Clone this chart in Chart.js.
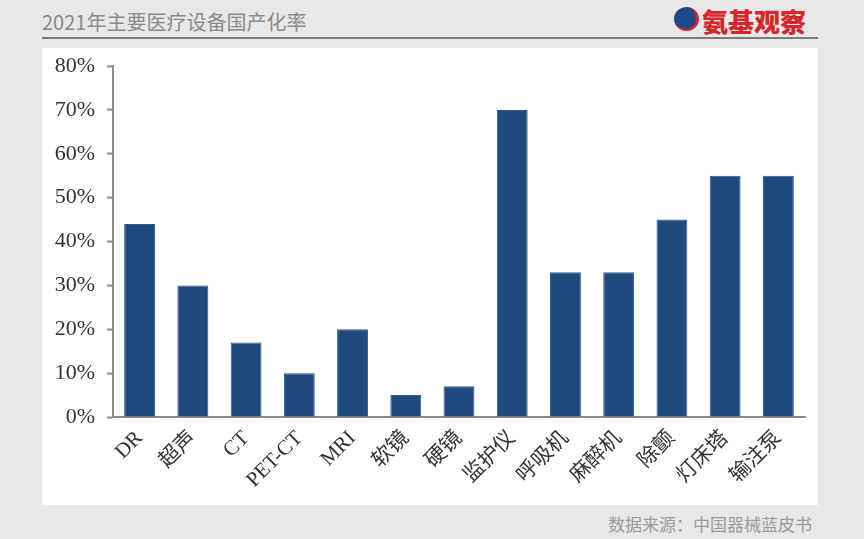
<!DOCTYPE html>
<html>
<head>
<meta charset="utf-8">
<script src="https://cdn.jsdelivr.net/npm/chart.js@4"></script>
<style>
  body { margin: 0; width: 864px; height: 539px; background: #e8e8e8; position: relative; overflow: hidden; font-family: "Noto Sans CJK SC", sans-serif; }
  #title { position: absolute; left: 42px; top: 7px; font-size: 20px; color: #8a8a8a; }
  #rule { position: absolute; left: 42px; top: 37px; width: 776px; height: 2px; background: #7a7a7a; }
  #panel { position: absolute; left: 42px; top: 48px; width: 776px; height: 457px; background: #fff; }
  #logo { position: absolute; left: 672px; top: 2px; height: 30px; }
  #logo .icon { position: absolute; left: 2px; top: 5px; width: 22px; height: 22px; border-radius: 50%; background: #1f4a8a; border-right: 3px solid #d7262b; border-bottom: 2px solid #d7262b; }
  #logo .txt { position: absolute; left: 30px; top: 0px; font-size: 26px; font-weight: 900; color: #d7262b; white-space: nowrap; }
  #source { position: absolute; left: 608px; top: 511px; font-size: 17px; color: #9a9a9a; }
  #chart { position: absolute; left: 0; top: 0; }
</style>
</head>
<body>
<div id="title">2021年主要医疗设备国产化率</div>
<div id="rule"></div>
<div id="logo"><div class="icon"></div><div class="txt">氨基观察</div></div>
<div id="panel"></div>
<div id="source">数据来源：中国器械蓝皮书</div>
<canvas id="chart" width="864" height="539"></canvas>
<script>
// data
const categories = ["DR", "超声", "CT", "PET-CT", "MRI", "软镜", "硬镜", "监护仪", "呼吸机", "麻醉机", "除颤", "灯床塔", "输注泵"];
const rates = [44, 30, 17, 10, 20, 5, 7, 70, 33, 33, 45, 55, 55];
const yTicks = [0, 10, 20, 30, 40, 50, 60, 70, 80];

const serif = "'Liberation Serif', 'Noto Sans CJK SC', serif";

new Chart(document.getElementById("chart"), {
  type: "bar",
  data: {
    labels: categories,
    datasets: [{
      data: rates,
      backgroundColor: "#1F4A7E",
      borderColor: "#2d5a90",
      borderWidth: 1,
      categoryPercentage: 1,
      barPercentage: 0.58
    }]
  },
  options: {
    responsive: false,
    animation: false,
    devicePixelRatio: 1,
    layout: { padding: { top: 66, right: 59, left: 0, bottom: 0 } },
    plugins: { legend: { display: false }, tooltip: { enabled: false } },
    scales: {
      x: {
        grid: { drawOnChartArea: false, drawTicks: false },
        border: { display: true, color: "#8c8c8c", width: 2 },
        ticks: {
          font: { family: serif, size: 21 }, color: "#333",
          maxRotation: 45, minRotation: 45, padding: 9, autoSkip: false
        },
        afterFit: s => { s.height = 122; }
      },
      y: {
        min: 0, max: 80,
        afterBuildTicks: s => { s.ticks = yTicks.map(v => ({ value: v })); },
        grid: { drawOnChartArea: false, drawTicks: true, tickLength: 6, color: "#8c8c8c", tickWidth: 2 },
        border: { display: true, color: "#8c8c8c", width: 2 },
        ticks: { font: { family: serif, size: 22 }, color: "#333", padding: 12, callback: v => v + "%" },
        afterFit: s => { s.width = 113; }
      }
    }
  }
});
</script>
</body>
</html>
